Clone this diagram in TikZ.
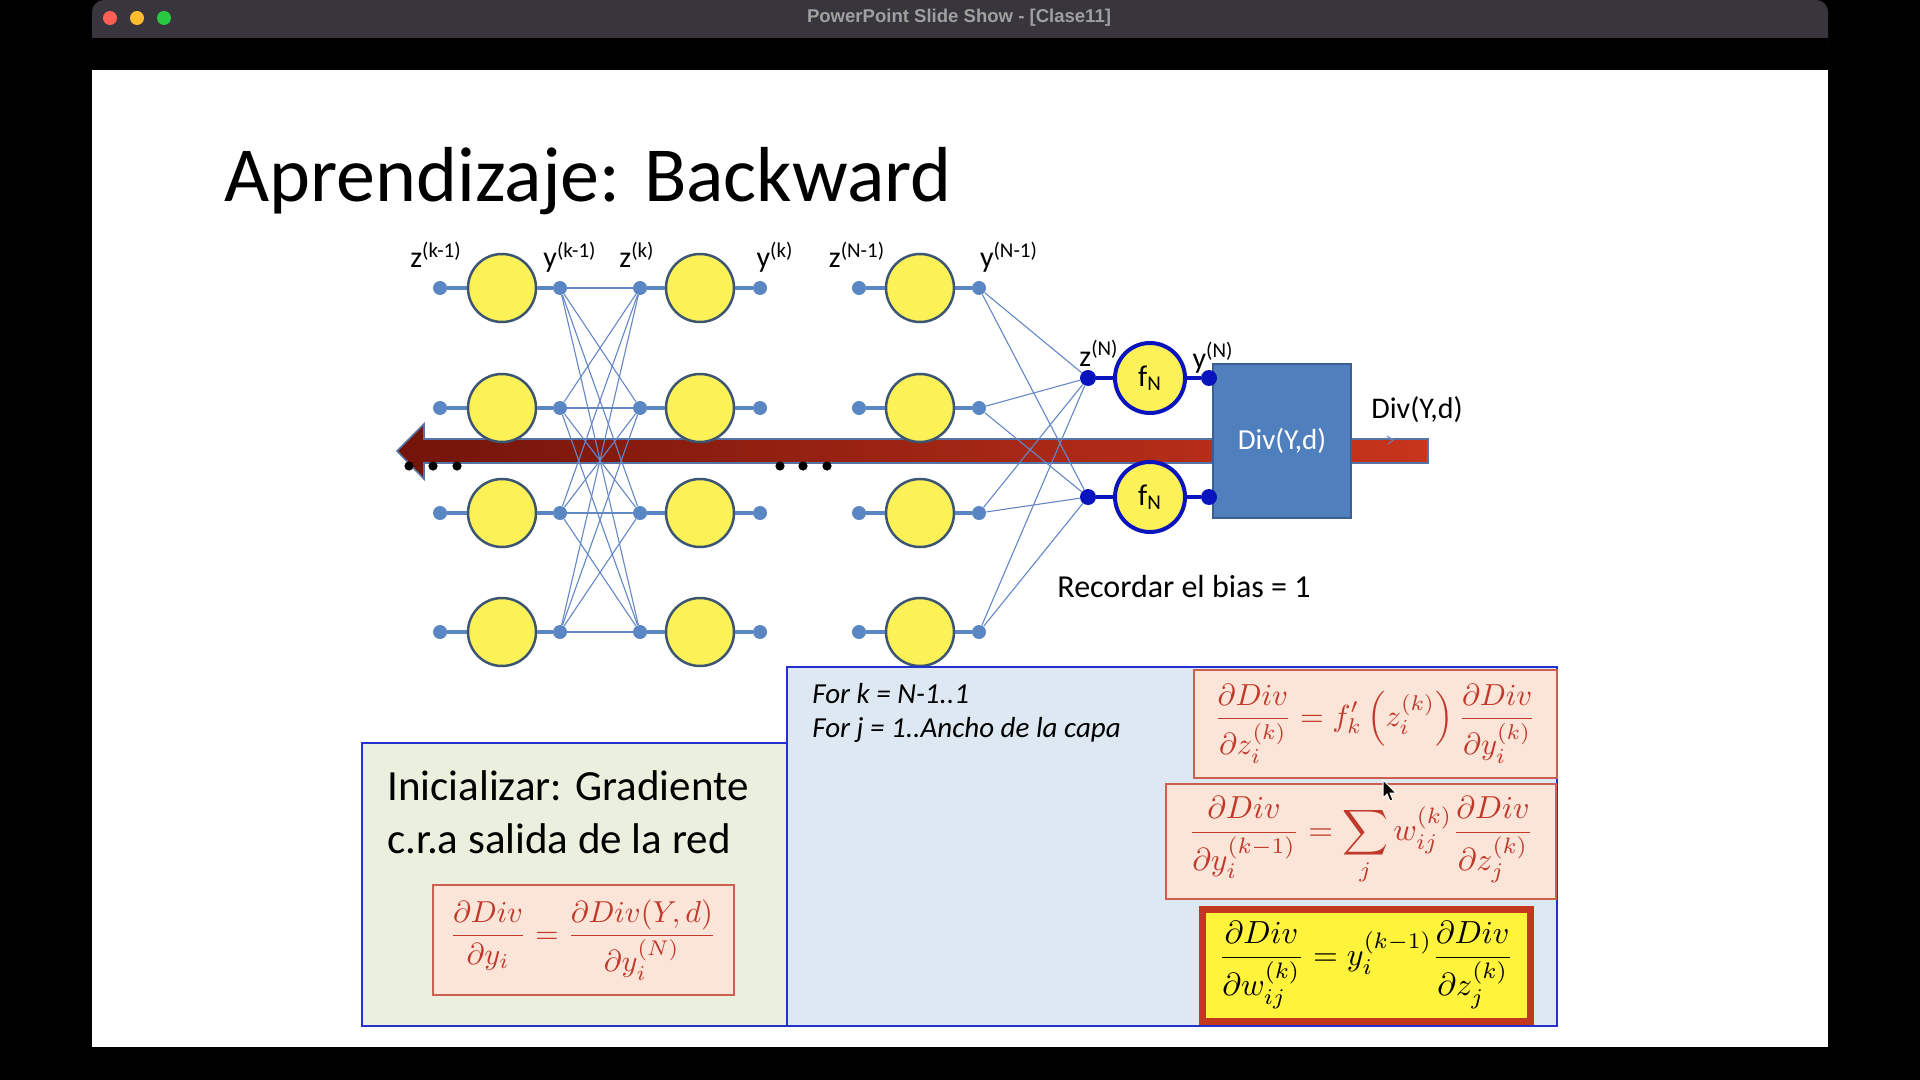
\documentclass[tikz,border=0pt]{standalone}
\usepackage{fontspec}
\setmainfont{Carlito}
\newfontfamily\macfont{Liberation Sans}
\usepackage{amsmath}
\usepackage{graphicx}
\definecolor{titlebg}{RGB}{56,54,60}
\definecolor{macred}{RGB}{255,95,87}
\definecolor{macyellow}{RGB}{254,188,46}
\definecolor{macgreen}{RGB}{40,200,64}
\definecolor{titletext}{RGB}{160,160,160}
\definecolor{neuyellow}{RGB}{252,242,88}
\definecolor{circedge}{RGB}{60,85,115}
\definecolor{dotblue}{RGB}{90,134,196}
\definecolor{connblue}{RGB}{100,135,200}
\definecolor{arrowdark}{RGB}{115,20,10}
\definecolor{arrowred}{RGB}{200,52,28}
\definecolor{arrowedge}{RGB}{85,115,165}
\definecolor{divfill}{RGB}{80,127,190}
\definecolor{divedge}{RGB}{60,95,145}
\definecolor{dkblue}{RGB}{10,20,190}
\definecolor{boxblue}{RGB}{35,50,205}
\definecolor{greenbg}{RGB}{234,239,222}
\definecolor{bluebg}{RGB}{221,232,242}
\definecolor{pinkbg}{RGB}{251,228,216}
\definecolor{pinkedge}{RGB}{205,95,80}
\definecolor{fred}{RGB}{192,57,43}
\definecolor{yellowbg}{RGB}{255,243,60}
\definecolor{yellowedge}{RGB}{195,55,30}
\begin{document}
\begin{tikzpicture}[x=0.5pt,y=-0.5pt,
  light/.style={circle,inner sep=0,minimum size=7pt},
  neuron/.style={circle,draw=circedge,line width=1.25pt,fill=neuyellow,minimum size=34pt,inner sep=0},
  ndot/.style={circle,fill=dotblue,minimum size=7pt,inner sep=0},
  stub/.style={draw=dotblue,line width=2pt},
  conn/.style={draw=connblue,line width=0.55pt},
  oneuron/.style={circle,draw=dkblue,line width=2pt,fill=neuyellow,minimum size=35pt,inner sep=0,font=\fontsize{15pt}{18pt}\selectfont},
  odot/.style={circle,fill=dkblue,minimum size=8pt,inner sep=0},
  ostub/.style={draw=dkblue,line width=2pt},
  bdot/.style={circle,fill=black,minimum size=4.6pt,inner sep=0},
  lbl/.style={anchor=base,inner sep=0,font=\fontsize{15pt}{18pt}\selectfont},
  fbox/.style={draw=pinkedge,fill=pinkbg,line width=0.6pt},
  bigbox/.style={draw=boxblue,line width=1pt}
]
\useasboundingbox (0,0) rectangle (1920,1080);
% screen / window
\fill[black] (0,0) rectangle (1920,1080);
\fill[titlebg,rounded corners=6pt] (92,0) rectangle (1828,60);
\fill[black] (92,38) rectangle (1828,70);
\fill[white] (92,70) rectangle (1828,1047);
\node[light,fill=macred] (red) at (110,18) {};
\node[light,fill=macyellow] (yel) at (137,18) {};
\node[light,fill=macgreen] (grn) at (164,18) {};
\node[text=titletext,inner sep=0] (wtitle) at (959,18) {\resizebox{152pt}{!}{\macfont\bfseries PowerPoint Slide Show - [Clase11]}};

% slide title
\node[anchor=base west,inner sep=0,font=\fontsize{39pt}{44pt}\selectfont] (title) at (224,202) {Aprendizaje: Backward};

% backward arrow
\shadedraw[left color=arrowdark,right color=arrowred,draw=arrowedge,line width=0.8pt]
  (397,451) -- (424,424) -- (424,439) -- (1428,439) -- (1428,463) -- (424,463) -- (424,479) -- cycle;
\draw[connblue,line width=0.5pt] (1387,436) -- (1393,440) -- (1388,444);

% network layers
\foreach \r/\yy in {1/288,2/408,3/513,4/632}{
  \node[ndot] (ain\r) at (440,\yy) {};
  \node[neuron] (an\r) at (502,\yy) {};
  \node[ndot] (aout\r) at (560,\yy) {};
  \node[ndot] (bin\r) at (640,\yy) {};
  \node[neuron] (bn\r) at (700,\yy) {};
  \node[ndot] (bout\r) at (760,\yy) {};
  \node[ndot] (cin\r) at (859,\yy) {};
  \node[neuron] (cn\r) at (920,\yy) {};
  \node[ndot] (cout\r) at (979,\yy) {};
  \draw[stub] (ain\r) -- (an\r);
  \draw[stub] (an\r) -- (aout\r);
  \draw[stub] (bin\r) -- (bn\r);
  \draw[stub] (bn\r) -- (bout\r);
  \draw[stub] (cin\r) -- (cn\r);
  \draw[stub] (cn\r) -- (cout\r);
}
\foreach \i in {1,...,4}{
  \foreach \j in {1,...,4}{
    \draw[conn] (aout\i) -- (bin\j);
  }
}

% Div box
\node[draw=divedge,fill=divfill,line width=1pt,minimum width=69pt,minimum height=77pt,inner sep=0,
  text=white,font=\fontsize{14.5pt}{17pt}\selectfont] (div) at (1282,441) {Div(Y,d)};

% output layer
\foreach \r/\yy in {1/378,2/497}{
  \node[odot] (zn\r) at (1088,\yy) {};
  \node[oneuron] (fn\r) at (1150,\yy) {f\textsubscript{N}};
  \node[odot] (yn\r) at (1209,\yy) {};
  \draw[ostub] (zn\r) -- (fn\r);
  \draw[ostub] (fn\r) -- (yn\r);
}
\foreach \i in {1,...,4}{
  \foreach \j in {1,2}{
    \draw[conn] (cout\i) -- (zn\j);
  }
}

% ellipsis dots
\node[bdot] (d1) at (409,466) {};
\node[bdot] (d2) at (433,466) {};
\node[bdot] (d3) at (457,466) {};
\node[bdot] (d4) at (780,466) {};
\node[bdot] (d5) at (803,466) {};
\node[bdot] (d6) at (827,466) {};

% labels
\node[lbl] (lz1) at (436,268) {z\textsuperscript{(k-1)}};
\node[lbl] (ly1) at (570,268) {y\textsuperscript{(k-1)}};
\node[lbl] (lz2) at (637,268) {z\textsuperscript{(k)}};
\node[lbl] (ly2) at (775,268) {y\textsuperscript{(k)}};
\node[lbl] (lz3) at (857,268) {z\textsuperscript{(N-1)}};
\node[lbl] (ly3) at (1009,268) {y\textsuperscript{(N-1)}};
\node[lbl] (lzn) at (1099,366) {z\textsuperscript{(N)}};
\node[lbl] (lyn) at (1213,368) {y\textsuperscript{(N)}};
\node[inner sep=0,font=\fontsize{15pt}{18pt}\selectfont] (divlbl) at (1417,410) {Div(Y,d)};
\node[anchor=west,inner sep=0,font=\fontsize{16pt}{19pt}\selectfont] (bias) at (1057,587) {Recordar el bias = 1};

% init box
\draw[bigbox,fill=greenbg] (362,743) rectangle (787,1026);
\node[anchor=base west,inner sep=0,font=\fontsize{21.5pt}{26pt}\selectfont] (init1) at (387,800) {Inicializar: Gradiente};
\node[anchor=base west,inner sep=0,font=\fontsize{21.5pt}{26pt}\selectfont] (init2) at (387,853) {c.r.a salida de la red};
\draw[fbox] (433,885) rectangle (734,995);
\node[text=fred,inner sep=0] (finit) at (583,940) {\resizebox{133.5pt}{!}{$\displaystyle \frac{\partial Div}{\partial y_i}=\frac{\partial Div(Y,d)}{\partial y_i^{(N)}}$}};

% loop box
\draw[bigbox,fill=bluebg] (787,667) rectangle (1557,1026);
\node[anchor=base west,inner sep=0,font=\itshape\fontsize{14.5pt}{17pt}\selectfont] (fork) at (812,703) {For k = N-1..1};
\node[anchor=base west,inner sep=0,font=\itshape\fontsize{14.5pt}{17pt}\selectfont] (forj) at (812,737) {For j = 1..Ancho de la capa};

\draw[fbox] (1194,670) rectangle (1557,778);
\node[text=fred,inner sep=0] (f1) at (1375,724) {\resizebox{161pt}{!}{$\displaystyle \frac{\partial Div}{\partial z_i^{(k)}}=f_k'\left(z_i^{(k)}\right)\frac{\partial Div}{\partial y_i^{(k)}}$}};

\draw[fbox] (1166,784) rectangle (1556,899);
\node[text=fred,inner sep=0] (f2) at (1361,841) {\resizebox{172.5pt}{!}{$\displaystyle \frac{\partial Div}{\partial y_i^{(k-1)}}=\sum_j w_{ij}^{(k)}\frac{\partial Div}{\partial z_j^{(k)}}$}};

\draw[draw=yellowedge,fill=yellowbg,line width=3.5pt] (1202.5,909.5) rectangle (1530.5,1021.5);
\node[inner sep=0] (f3) at (1366,965) {\resizebox{147.5pt}{!}{$\displaystyle \frac{\partial Div}{\partial w_{ij}^{(k)}}=y_i^{(k-1)}\frac{\partial Div}{\partial z_j^{(k)}}$}};

% mouse cursor
\filldraw[fill=black,draw=white,line width=0.5pt] (1383,780) -- (1383,798) -- (1387,794) -- (1390,801) -- (1393,800) -- (1390,793) -- (1396,793) -- cycle;
\end{tikzpicture}
\end{document}
